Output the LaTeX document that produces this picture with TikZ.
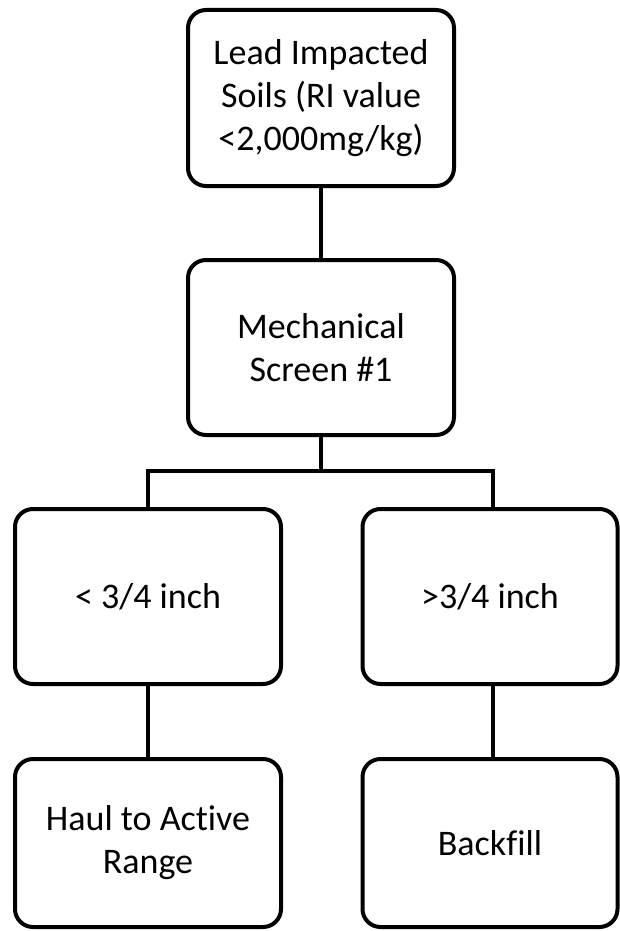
\documentclass[tikz,border=0pt]{standalone}
\usepackage{fontspec}
\setmainfont{Carlito}[Ligatures=NoCommon]
\begin{document}
\begin{tikzpicture}[x=1pt,y=-1pt,
  box/.style={draw=black, line width=4pt, rounded corners=18pt, fill=white,
    inner sep=0pt, align=center, font=\fontsize{36}{43}\selectfont},
  conn/.style={draw=black, line width=4pt}]
\useasboundingbox (0,0) rectangle (620,931);
\node[box, minimum width=266pt, minimum height=176pt] (n1) at (321,98) {Lead Impacted\\Soils (RI value\\<2,000mg/kg)};
\node[box, minimum width=266pt, minimum height=175pt] (n2) at (321,347.5) {Mechanical\\Screen \#1};
\node[box, minimum width=266pt, minimum height=175pt] (n3) at (148,596.5) {< 3/4 inch};
\node[box, minimum width=255pt, minimum height=175pt] (n4) at (490,596.5) {>3/4 inch};
\node[box, minimum width=266pt, minimum height=168pt] (n5) at (148,843) {Haul to Active\\Range};
\node[box, minimum width=255pt, minimum height=168pt] (n6) at (490,843) {Backfill};
\coordinate (bar) at (321,471);
\coordinate (l3) at (148,509);
\coordinate (l4) at (493,509);
\draw[conn] (n1.south) -- (n2.north);
\draw[conn] (n2.south) -- (bar);
\draw[conn] (l3) |- (bar) -| (l4);
\draw[conn] (n3.south) -- (n5.north);
\draw[conn] (l4 |- n4.south) -- (l4 |- n6.north);
\end{tikzpicture}
\end{document}
